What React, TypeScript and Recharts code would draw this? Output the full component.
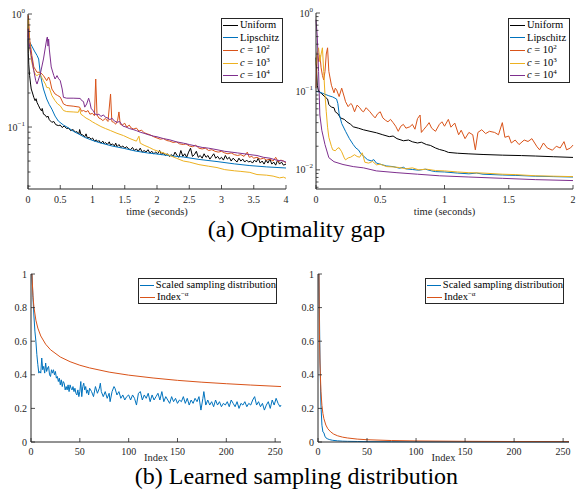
import React from "react";
import { LineChart, Line, XAxis, YAxis, Legend } from "recharts";

const FONT = '"Liberation Serif", "Times New Roman", serif';
const AX = "#262626";
const BLACK = "#000000";
const BLUE = "#0072BD";
const ORANGE = "#D95319";
const YELLOW = "#EDB120";
const PURPLE = "#7E2F8E";

type Pt = [number, number];

// (a) left panel: optimality gap vs time (seconds), 0..4
const TL_UNIFORM: Pt[] = [
  [0, 0.6], [0.005, 0.45], [0.012, 0.36], [0.025, 0.285], [0.04, 0.24], [0.05, 0.217], [0.07, 0.2], [0.09, 0.183],
  [0.11, 0.171], [0.125, 0.178], [0.14, 0.165], [0.165, 0.154], [0.19, 0.144], [0.21, 0.139], [0.22, 0.146], [0.24, 0.13],
  [0.27, 0.127], [0.29, 0.122], [0.31, 0.125], [0.33, 0.116], [0.37, 0.11], [0.4, 0.112], [0.43, 0.105], [0.47, 0.103],
  [0.5, 0.104], [0.53, 0.099], [0.56, 0.102], [0.6, 0.097], [0.63, 0.098], [0.66, 0.093], [0.7, 0.095], [0.73, 0.09],
  [0.76, 0.091], [0.79, 0.087], [0.8, 0.095], [0.82, 0.086], [0.85, 0.085], [0.88, 0.082], [0.9, 0.087], [0.92, 0.08],
  [0.95, 0.081], [0.98, 0.078], [1.0, 0.08], [1.03, 0.075], [1.06, 0.077], [1.08, 0.074], [1.1, 0.076], [1.13, 0.072],
  [1.16, 0.075], [1.18, 0.071], [1.2, 0.073], [1.23, 0.07], [1.26, 0.074], [1.28, 0.069], [1.31, 0.071], [1.34, 0.068],
  [1.36, 0.072], [1.38, 0.067], [1.41, 0.07], [1.44, 0.066], [1.47, 0.068], [1.5, 0.065], [1.53, 0.067], [1.56, 0.064],
  [1.59, 0.063], [1.62, 0.066], [1.65, 0.062], [1.68, 0.064], [1.71, 0.061], [1.74, 0.065], [1.77, 0.06], [1.8, 0.062],
  [1.83, 0.06], [1.86, 0.063], [1.89, 0.059], [1.92, 0.061], [1.95, 0.058], [1.98, 0.06], [2.01, 0.058], [2.04, 0.062],
  [2.07, 0.057], [2.1, 0.059], [2.13, 0.056], [2.16, 0.058], [2.19, 0.055], [2.22, 0.057], [2.25, 0.055], [2.28, 0.06],
  [2.31, 0.056], [2.34, 0.054], [2.37, 0.062], [2.4, 0.055], [2.43, 0.058], [2.46, 0.054], [2.49, 0.06], [2.52, 0.065],
  [2.55, 0.055], [2.58, 0.057], [2.61, 0.061], [2.64, 0.054], [2.67, 0.056], [2.7, 0.053], [2.73, 0.058], [2.76, 0.054],
  [2.79, 0.056], [2.82, 0.052], [2.85, 0.055], [2.88, 0.058], [2.91, 0.053], [2.94, 0.055], [2.97, 0.052], [3.0, 0.054],
  [3.03, 0.051], [3.06, 0.056], [3.09, 0.052], [3.12, 0.054], [3.15, 0.05], [3.18, 0.053], [3.21, 0.051], [3.24, 0.049],
  [3.27, 0.053], [3.3, 0.05], [3.33, 0.052], [3.36, 0.049], [3.39, 0.051], [3.42, 0.049], [3.45, 0.05], [3.48, 0.048],
  [3.51, 0.051], [3.54, 0.049], [3.57, 0.053], [3.6, 0.048], [3.63, 0.05], [3.66, 0.047], [3.69, 0.051], [3.72, 0.048],
  [3.75, 0.052], [3.78, 0.047], [3.81, 0.049], [3.84, 0.046], [3.87, 0.051], [3.9, 0.047], [3.93, 0.049], [3.96, 0.046],
  [4.0, 0.047],
];
const TL_LIPSCHITZ: Pt[] = [
  [0, 0.61], [0.03, 0.56], [0.06, 0.52], [0.1, 0.47], [0.14, 0.43], [0.165, 0.4], [0.19, 0.3], [0.215, 0.25],
  [0.24, 0.217], [0.29, 0.177], [0.33, 0.158], [0.37, 0.144], [0.42, 0.125], [0.47, 0.113], [0.55, 0.104], [0.63, 0.098],
  [0.7, 0.092], [0.78, 0.087], [0.88, 0.081], [0.99, 0.0765], [1.1, 0.073], [1.3, 0.068], [1.5, 0.0645], [1.66, 0.0614],
  [1.85, 0.059], [2.0, 0.0577], [2.2, 0.0558], [2.41, 0.0543], [2.65, 0.0517], [2.93, 0.0495], [3.2, 0.0472],
  [3.44, 0.0456], [3.7, 0.0444], [4.0, 0.0434],
];
const TL_C2: Pt[] = [
  [0, 0.62], [0.005, 0.97], [0.012, 0.85], [0.025, 0.6], [0.06, 0.43], [0.09, 0.34], [0.14, 0.305], [0.19, 0.305],
  [0.24, 0.285], [0.29, 0.257], [0.32, 0.277], [0.34, 0.26], [0.37, 0.217], [0.42, 0.196], [0.46, 0.19], [0.5, 0.184],
  [0.55, 0.16], [0.6, 0.155], [0.7, 0.153], [0.8, 0.15], [0.83, 0.138], [0.86, 0.14], [0.9, 0.136], [0.93, 0.14],
  [0.96, 0.13], [1.0, 0.132], [1.03, 0.126], [1.05, 0.266], [1.07, 0.128], [1.1, 0.12], [1.13, 0.118], [1.16, 0.114],
  [1.2, 0.119], [1.24, 0.112], [1.28, 0.196], [1.3, 0.112], [1.33, 0.11], [1.36, 0.106], [1.39, 0.115], [1.41, 0.136],
  [1.43, 0.106], [1.46, 0.104], [1.5, 0.108], [1.53, 0.1], [1.57, 0.104], [1.6, 0.098], [1.64, 0.096], [1.68, 0.098],
  [1.72, 0.092], [1.76, 0.094], [1.8, 0.089], [1.85, 0.087], [1.9, 0.085], [1.95, 0.082], [2.0, 0.08], [2.05, 0.078],
  [2.1, 0.079], [2.15, 0.076], [2.2, 0.075], [2.25, 0.073], [2.3, 0.074], [2.35, 0.071], [2.41, 0.07], [2.45, 0.071],
  [2.5, 0.068], [2.55, 0.067], [2.6, 0.069], [2.65, 0.065], [2.7, 0.064], [2.75, 0.065], [2.8, 0.062], [2.85, 0.063],
  [2.9, 0.061], [2.95, 0.06], [3.0, 0.061], [3.05, 0.059], [3.1, 0.058], [3.15, 0.059], [3.2, 0.057], [3.25, 0.056],
  [3.3, 0.057], [3.35, 0.055], [3.4, 0.06], [3.43, 0.054], [3.47, 0.055], [3.5, 0.053], [3.55, 0.054], [3.6, 0.052],
  [3.65, 0.053], [3.7, 0.051], [3.75, 0.052], [3.8, 0.05], [3.84, 0.054], [3.88, 0.049], [3.92, 0.051], [3.96, 0.05],
  [4.0, 0.048],
];
const TL_C3: Pt[] = [
  [0, 0.72], [0.005, 0.9], [0.012, 0.69], [0.03, 0.5], [0.05, 0.4], [0.07, 0.35], [0.09, 0.315], [0.12, 0.29],
  [0.14, 0.285], [0.17, 0.295], [0.19, 0.29], [0.22, 0.27], [0.24, 0.257], [0.27, 0.24], [0.29, 0.224], [0.33, 0.222],
  [0.37, 0.19], [0.42, 0.171], [0.46, 0.16], [0.5, 0.154], [0.55, 0.14], [0.6, 0.137], [0.7, 0.136], [0.78, 0.135],
  [0.8, 0.145], [0.82, 0.13], [0.86, 0.125], [0.9, 0.12], [0.95, 0.116], [1.0, 0.111], [1.05, 0.107], [1.13, 0.101],
  [1.2, 0.097], [1.28, 0.093], [1.38, 0.088], [1.48, 0.084], [1.58, 0.079], [1.68, 0.075], [1.72, 0.083], [1.74, 0.072],
  [1.8, 0.069], [1.88, 0.066], [1.95, 0.063], [2.02, 0.061], [2.1, 0.059], [2.2, 0.056], [2.3, 0.053], [2.41, 0.05],
  [2.5, 0.049], [2.65, 0.0465], [2.8, 0.045], [2.93, 0.0438], [3.05, 0.042], [3.2, 0.041], [3.3, 0.0405], [3.44, 0.0397],
  [3.55, 0.038], [3.7, 0.0375], [3.8, 0.0368], [3.9, 0.0355], [3.96, 0.036], [4.0, 0.0352],
];
const TL_C4: Pt[] = [
  [0, 0.6], [0.005, 0.74], [0.015, 0.56], [0.05, 0.43], [0.09, 0.315], [0.12, 0.257], [0.14, 0.24], [0.19, 0.294],
  [0.24, 0.4], [0.29, 0.6], [0.3, 0.626], [0.31, 0.52], [0.32, 0.6], [0.33, 0.49], [0.36, 0.34], [0.4, 0.285],
  [0.42, 0.266], [0.45, 0.285], [0.47, 0.27], [0.5, 0.257], [0.53, 0.217], [0.55, 0.183], [0.6, 0.18], [0.7, 0.18],
  [0.81, 0.179], [0.83, 0.172], [0.86, 0.168], [0.88, 0.15], [0.91, 0.16], [0.94, 0.18], [0.96, 0.165], [0.98, 0.145],
  [1.01, 0.14], [1.04, 0.13], [1.07, 0.128], [1.1, 0.13], [1.13, 0.124], [1.17, 0.128], [1.2, 0.122], [1.24, 0.12],
  [1.27, 0.116], [1.3, 0.12], [1.34, 0.113], [1.38, 0.11], [1.42, 0.112], [1.47, 0.102], [1.52, 0.1], [1.57, 0.097],
  [1.63, 0.095], [1.68, 0.093], [1.74, 0.09], [1.8, 0.088], [1.88, 0.085], [1.95, 0.083], [2.0, 0.082], [2.1, 0.079],
  [2.2, 0.077], [2.3, 0.074], [2.41, 0.072], [2.5, 0.07], [2.6, 0.068], [2.7, 0.066], [2.8, 0.065], [2.93, 0.063],
  [3.05, 0.061], [3.15, 0.06], [3.25, 0.059], [3.35, 0.058], [3.44, 0.057], [3.55, 0.056], [3.65, 0.054], [3.75, 0.053],
  [3.85, 0.051], [3.96, 0.05], [4.0, 0.049],
];

// (a) right panel: optimality gap vs time (seconds), 0..2
const TR_UNIFORM: Pt[] = [
  [0, 0.27], [0.01, 0.12], [0.02, 0.1], [0.04, 0.095], [0.07, 0.085], [0.09, 0.08], [0.1, 0.068], [0.12, 0.063],
  [0.14, 0.062], [0.15, 0.055], [0.17, 0.052], [0.19, 0.046], [0.22, 0.044], [0.24, 0.041], [0.27, 0.038], [0.29, 0.0354],
  [0.33, 0.034], [0.37, 0.0324], [0.42, 0.031], [0.47, 0.0297], [0.52, 0.028], [0.57, 0.0265], [0.6, 0.027], [0.63, 0.025],
  [0.68, 0.0235], [0.72, 0.024], [0.75, 0.0228], [0.79, 0.022], [0.82, 0.0225], [0.86, 0.021], [0.89, 0.0205], [0.93, 0.019],
  [0.96, 0.0182], [1.0, 0.0175], [1.03, 0.0167], [1.1, 0.0163], [1.19, 0.016], [1.3, 0.0157], [1.45, 0.0154], [1.6, 0.0152],
  [1.71, 0.015], [1.85, 0.0147], [2.0, 0.0144],
];
const TR_LIPSCHITZ: Pt[] = [
  [0, 0.1], [0.03, 0.098], [0.07, 0.092], [0.1, 0.088], [0.13, 0.085], [0.16, 0.08], [0.17, 0.07], [0.18, 0.052],
  [0.2, 0.039], [0.23, 0.031], [0.26, 0.025], [0.29, 0.021], [0.31, 0.019], [0.33, 0.018], [0.35, 0.016], [0.37, 0.015],
  [0.4, 0.0135], [0.43, 0.013], [0.45, 0.0135], [0.47, 0.0122], [0.5, 0.0118], [0.55, 0.0112], [0.6, 0.011], [0.65, 0.0105],
  [0.68, 0.0108], [0.7, 0.0103], [0.75, 0.0101], [0.8, 0.0099], [0.85, 0.0102], [0.9, 0.0097], [0.93, 0.0095], [1.0, 0.0094],
  [1.1, 0.0091], [1.19, 0.0089], [1.25, 0.0091], [1.3, 0.0088], [1.45, 0.0086], [1.55, 0.0085], [1.71, 0.0083],
  [1.85, 0.0082], [2.0, 0.0081],
];
const TR_C2: Pt[] = [
  [0, 0.11], [0.01, 0.32], [0.02, 0.24], [0.03, 0.29], [0.04, 0.2], [0.05, 0.16], [0.06, 0.14], [0.07, 0.18],
  [0.08, 0.3], [0.09, 0.36], [0.1, 0.18], [0.12, 0.12], [0.14, 0.096], [0.15, 0.11], [0.16, 0.105], [0.18, 0.086],
  [0.2, 0.11], [0.22, 0.085], [0.23, 0.074], [0.25, 0.064], [0.27, 0.07], [0.28, 0.068], [0.3, 0.055], [0.32, 0.067],
  [0.34, 0.062], [0.36, 0.056], [0.37, 0.055], [0.39, 0.062], [0.42, 0.055], [0.44, 0.05], [0.46, 0.046], [0.48, 0.052],
  [0.5, 0.055], [0.52, 0.046], [0.54, 0.043], [0.56, 0.041], [0.58, 0.044], [0.6, 0.04], [0.62, 0.036], [0.64, 0.031],
  [0.66, 0.036], [0.68, 0.038], [0.7, 0.034], [0.73, 0.0354], [0.75, 0.038], [0.77, 0.033], [0.79, 0.045], [0.81, 0.05],
  [0.82, 0.03], [0.84, 0.033], [0.86, 0.036], [0.88, 0.04], [0.9, 0.034], [0.93, 0.031], [0.96, 0.038], [0.98, 0.041],
  [1.0, 0.036], [1.03, 0.044], [1.05, 0.035], [1.08, 0.0395], [1.11, 0.028], [1.13, 0.032], [1.16, 0.025], [1.19, 0.03],
  [1.22, 0.028], [1.24, 0.018], [1.26, 0.03], [1.29, 0.0325], [1.32, 0.029], [1.35, 0.031], [1.39, 0.03], [1.42, 0.028],
  [1.45, 0.04], [1.47, 0.026], [1.5, 0.027], [1.52, 0.022], [1.55, 0.024], [1.58, 0.021], [1.62, 0.024], [1.65, 0.023],
  [1.68, 0.025], [1.72, 0.0197], [1.74, 0.018], [1.77, 0.022], [1.8, 0.019], [1.84, 0.0178], [1.87, 0.02], [1.9, 0.019],
  [1.93, 0.0229], [1.95, 0.018], [1.98, 0.019], [2.0, 0.0207],
];
const TR_C3: Pt[] = [
  [0, 0.22], [0.01, 0.3], [0.02, 0.36], [0.03, 0.24], [0.04, 0.3], [0.05, 0.36], [0.06, 0.18], [0.07, 0.09],
  [0.08, 0.055], [0.09, 0.035], [0.1, 0.026], [0.12, 0.02], [0.13, 0.018], [0.15, 0.0175], [0.17, 0.019], [0.18, 0.0191],
  [0.2, 0.017], [0.22, 0.0142], [0.23, 0.0134], [0.25, 0.0142], [0.27, 0.0145], [0.3, 0.0156], [0.32, 0.0148], [0.34, 0.0145],
  [0.36, 0.0165], [0.38, 0.0125], [0.41, 0.0122], [0.44, 0.0128], [0.47, 0.0116], [0.5, 0.0118], [0.55, 0.011], [0.6, 0.0109],
  [0.65, 0.0107], [0.7, 0.0103], [0.75, 0.0106], [0.8, 0.01], [0.86, 0.0102], [0.93, 0.0098], [1.0, 0.0097], [1.1, 0.0094],
  [1.19, 0.0092], [1.3, 0.0091], [1.45, 0.0088], [1.55, 0.0087], [1.71, 0.0084], [1.85, 0.0083], [2.0, 0.0082],
];
const TR_C4: Pt[] = [
  [0, 0.82], [0.01, 0.5], [0.02, 0.18], [0.03, 0.05], [0.045, 0.032], [0.07, 0.021], [0.1, 0.0143], [0.14, 0.0127],
  [0.21, 0.0117], [0.29, 0.011], [0.37, 0.0106], [0.47, 0.0097], [0.63, 0.0092], [0.79, 0.0088], [0.96, 0.0084],
  [1.19, 0.0081], [1.45, 0.0078], [1.71, 0.0075], [2.0, 0.0073],
];

// (b) learned sampling distribution, index 1..256
const BL_SAMPLED: Pt[] = [
  [1, 1.0], [2, 0.86], [3, 0.75], [4, 0.66], [5, 0.6], [6, 0.52], [7, 0.46], [8, 0.41], [9, 0.42], [10, 0.41],
  [11, 0.5], [12, 0.43], [13, 0.45], [14, 0.41], [15, 0.47], [16, 0.42], [17, 0.44], [18, 0.45], [19, 0.4], [20, 0.39],
  [21, 0.43], [22, 0.41], [23, 0.43], [24, 0.4], [25, 0.42], [26, 0.38], [27, 0.39], [28, 0.36], [29, 0.38], [30, 0.34],
  [31, 0.37], [32, 0.33], [33, 0.36], [34, 0.35], [35, 0.31], [36, 0.33], [37, 0.31], [38, 0.34], [39, 0.3], [40, 0.34],
  [41, 0.32], [42, 0.31], [43, 0.33], [44, 0.3], [45, 0.32], [46, 0.29], [47, 0.28], [48, 0.31], [49, 0.27], [50, 0.3],
  [51, 0.36], [52, 0.27], [53, 0.33], [54, 0.35], [55, 0.31], [56, 0.33], [57, 0.29], [58, 0.31], [59, 0.28], [60, 0.32],
  [62, 0.3], [64, 0.27], [66, 0.33], [68, 0.29], [70, 0.32], [71, 0.35], [72, 0.3], [74, 0.27], [76, 0.3], [78, 0.26],
  [80, 0.29], [81, 0.24], [83, 0.3], [85, 0.33], [86, 0.32], [88, 0.28], [90, 0.3], [92, 0.26], [94, 0.28], [96, 0.25],
  [98, 0.27], [100, 0.28], [102, 0.25], [104, 0.28], [106, 0.26], [108, 0.22], [110, 0.29], [112, 0.3], [114, 0.25],
  [116, 0.28], [118, 0.26], [120, 0.29], [122, 0.24], [124, 0.28], [126, 0.25], [128, 0.27], [130, 0.29], [132, 0.25],
  [134, 0.3], [136, 0.24], [138, 0.27], [140, 0.25], [142, 0.23], [144, 0.27], [146, 0.24], [148, 0.26], [150, 0.23],
  [152, 0.25], [154, 0.24], [156, 0.27], [158, 0.23], [160, 0.26], [162, 0.22], [164, 0.25], [166, 0.23], [168, 0.26],
  [170, 0.24], [172, 0.27], [174, 0.19], [176, 0.26], [177, 0.3], [179, 0.22], [181, 0.25], [183, 0.22], [185, 0.24],
  [187, 0.21], [189, 0.25], [191, 0.22], [193, 0.24], [195, 0.21], [197, 0.23], [199, 0.22], [201, 0.24], [203, 0.21],
  [205, 0.25], [207, 0.23], [209, 0.21], [211, 0.24], [213, 0.2], [215, 0.23], [217, 0.22], [219, 0.24], [221, 0.21],
  [223, 0.23], [225, 0.22], [227, 0.25], [229, 0.27], [231, 0.22], [233, 0.24], [235, 0.21], [237, 0.23], [239, 0.19],
  [241, 0.22], [243, 0.24], [245, 0.2], [247, 0.25], [249, 0.22], [251, 0.26], [253, 0.23], [255, 0.21], [256, 0.22],
];
const BL_POWER: Pt[] = [
  [1, 1.0], [2, 0.871], [3, 0.803], [5, 0.725], [7, 0.678], [10, 0.631], [15, 0.582], [20, 0.549], [30, 0.506],
  [40, 0.478], [50, 0.457], [60, 0.441], [80, 0.416], [100, 0.398], [125, 0.381], [150, 0.367], [175, 0.356],
  [200, 0.347], [225, 0.339], [256, 0.33],
];
const BR_SAMPLED: Pt[] = [
  [1, 1.0], [2, 0.5], [3, 0.22], [4, 0.1], [5, 0.06], [6, 0.055], [7, 0.035], [8, 0.025], [10, 0.018], [12, 0.014],
  [15, 0.01], [20, 0.007], [25, 0.005], [30, 0.004], [40, 0.003], [50, 0.002], [75, 0.0015], [100, 0.001],
  [150, 0.0008], [200, 0.0006], [256, 0.0005],
];
const BR_POWER: Pt[] = [
  [1, 1.0], [1.5, 0.64], [2, 0.47], [3, 0.3], [4, 0.218], [5, 0.17], [6, 0.139], [8, 0.101], [10, 0.079], [13, 0.06],
  [16, 0.047], [20, 0.037], [25, 0.029], [30, 0.024], [40, 0.0173], [50, 0.0135], [75, 0.0087], [100, 0.0063],
  [150, 0.004], [200, 0.0029], [256, 0.0022],
];

const GAP_NAMES = ["Uniform", "Lipschitz", "c = 10^2", "c = 10^3", "c = 10^4"];
const GAP_COLORS = [BLACK, BLUE, ORANGE, YELLOW, PURPLE];
const DIST_NAMES = ["Scaled sampling distribution", "Index^-α"];
const DIST_COLORS = [BLUE, ORANGE];

const TL_X_TICKS = [0, 0.5, 1, 1.5, 2, 2.5, 3, 3.5, 4];
const TR_X_TICKS = [0, 0.5, 1, 1.5, 2];
const TL_Y_TICKS = [0.03, 0.04, 0.05, 0.06, 0.07, 0.08, 0.09, 0.1, 0.2, 0.3, 0.4, 0.5, 0.6, 0.7, 0.8, 0.9, 1];
const TR_Y_TICKS = [
  0.006, 0.007, 0.008, 0.009, 0.01, 0.02, 0.03, 0.04, 0.05, 0.06, 0.07, 0.08, 0.09,
  0.1, 0.2, 0.3, 0.4, 0.5, 0.6, 0.7, 0.8, 0.9, 1,
];
const IDX_TICKS = [0, 50, 100, 150, 200, 250];
const DIST_Y_TICKS = [0, 0.2, 0.4, 0.6, 0.8, 1];

const pts = (arr: Pt[]) => arr.map(([t, v]) => ({ t, v }));

function LogYTick({ x, y, payload }: any) {
  const lg = Math.log10(payload.value);
  const p = Math.round(lg);
  const major = Math.abs(lg - p) < 1e-6;
  return (
    <g>
      <line x1={x} x2={x + (major ? 4 : 2.5)} y1={y} y2={y} stroke={AX} strokeWidth={0.8} />
      {major && (
        <text x={x - 3} y={y + 3.5} textAnchor="end" fontSize={10} fill={AX} fontFamily={FONT}>
          10<tspan dy={-5} fontSize={7}>{p === 0 ? "0" : "\u2212" + Math.abs(p)}</tspan>
        </text>
      )}
    </g>
  );
}

function LinYTick({ x, y, payload }: any) {
  return (
    <g>
      <line x1={x} x2={x + 4} y1={y} y2={y} stroke={AX} strokeWidth={0.8} />
      <text x={x - 4} y={y + 3.5} textAnchor="end" fontSize={10} fill={AX} fontFamily={FONT}>
        {String(payload.value)}
      </text>
    </g>
  );
}

function XTick({ x, y, payload, dy }: any) {
  return (
    <g>
      <line x1={x} x2={x} y1={y} y2={y - 4} stroke={AX} strokeWidth={0.8} />
      <text x={x} y={y + dy} textAnchor="middle" fontSize={10} fill={AX} fontFamily={FONT}>
        {String(payload.value)}
      </text>
    </g>
  );
}

const axisTitle = (text: string, dy: number) => (props: any) => {
  const { x, y, width } = props.viewBox;
  return (
    <text x={x + width / 2} y={y + dy} textAnchor="middle" fontSize={10.5} fill={AX} fontFamily={FONT}>
      {text}
    </text>
  );
};

const SUP: React.CSSProperties = { fontSize: 7, verticalAlign: "baseline", position: "relative", top: -4 };

function formatName(name: string) {
  const m = name.match(/^c = 10\^(\d)$/);
  if (m) return <><i>c</i> = 10<sup style={SUP}>{m[1]}</sup></>;
  if (name === "Index^-α") return <>Index<sup style={SUP}>{"\u2212\u03b1"}</sup></>;
  return name;
}

function LegendBox({ rowH, names, colors }: any) {
  return (
    <div style={{ boxSizing: "border-box", width: "100%", height: "100%", border: `1px solid ${AX}`, background: "#fff",
      fontFamily: FONT, fontSize: 10.5, color: "#000", lineHeight: 1 }}>
      {names.map((name: string, i: number) => (
        <div key={name} style={{ display: "flex", alignItems: "center", height: rowH, whiteSpace: "nowrap" }}>
          <span style={{ display: "inline-block", width: 15, height: 0, borderTop: `1.4px solid ${colors[i]}`, margin: "0 2px 0 1px" }} />
          <span>{formatName(name)}</span>
        </div>
      ))}
    </div>
  );
}

const lineProps = { dataKey: "v", dot: false, isAnimationActive: false, type: "linear" as const, strokeWidth: 1 };

export default function App() {
  const tl = [TL_UNIFORM, TL_LIPSCHITZ, TL_C2, TL_C3, TL_C4];
  const tr = [TR_UNIFORM, TR_LIPSCHITZ, TR_C2, TR_C3, TR_C4];

  return (
    <div style={{ position: "absolute", left: 0, top: 0, width: 577, height: 489, background: "#fff", overflow: "hidden" }}>
      <div style={{ position: "absolute", left: 0, top: 0 }}>
        <LineChart width={290} height={222} margin={{ top: 14, right: 4, bottom: 0, left: 0 }}>
          <XAxis dataKey="t" type="number" domain={[0, 4]} ticks={TL_X_TICKS} interval={0} height={33}
            stroke={AX} tickLine={false} tickSize={0} tickMargin={0} tick={<XTick dy={13.5} />}
            label={axisTitle("time (seconds)", 25.5)} />
          <YAxis type="number" scale="log" domain={[0.0283, 1]} allowDataOverflow ticks={TL_Y_TICKS} interval={0}
            width={28} stroke={AX} tickLine={false} tickSize={0} tickMargin={0} tick={<LogYTick />} />
          {tl.map((s, i) => (
            <Line key={GAP_NAMES[i]} {...lineProps} data={pts(s)} name={GAP_NAMES[i]} stroke={GAP_COLORS[i]} />
          ))}
          <Legend layout="vertical" align="center" verticalAlign="middle"
            wrapperStyle={{ left: 221, top: 18, width: 62, height: 65 }}
            content={() => <LegendBox rowH={12.6} names={GAP_NAMES} colors={GAP_COLORS} />} />
        </LineChart>
      </div>

      <div style={{ position: "absolute", left: 290, top: 0 }}>
        <LineChart width={287} height={222} margin={{ top: 13, right: 4, bottom: 0, left: 0 }}>
          <XAxis dataKey="t" type="number" domain={[0, 2]} ticks={TR_X_TICKS} interval={0} height={33}
            stroke={AX} tickLine={false} tickSize={0} tickMargin={0} tick={<XTick dy={13.5} />}
            label={axisTitle("time (seconds)", 25.5)} />
          <YAxis type="number" scale="log" domain={[0.0057, 1]} allowDataOverflow ticks={TR_Y_TICKS} interval={0}
            width={26} stroke={AX} tickLine={false} tickSize={0} tickMargin={0} tick={<LogYTick />} />
          {tr.map((s, i) => (
            <Line key={GAP_NAMES[i]} {...lineProps} data={pts(s)} name={GAP_NAMES[i]} stroke={GAP_COLORS[i]} />
          ))}
          <Legend layout="vertical" align="center" verticalAlign="middle"
            wrapperStyle={{ left: 218, top: 18, width: 62, height: 65 }}
            content={() => <LegendBox rowH={12.6} names={GAP_NAMES} colors={GAP_COLORS} />} />
        </LineChart>
      </div>

      <div style={{ position: "absolute", left: 0, top: 250 }}>
        <LineChart width={290} height={230} margin={{ top: 24, right: 9, bottom: 0, left: 0 }}>
          <XAxis dataKey="t" type="number" domain={[0, 256]} ticks={IDX_TICKS} interval={0} height={38}
            stroke={AX} tickLine={false} tickSize={0} tickMargin={0} tick={<XTick dy={12.5} />}
            label={axisTitle("Index", 18.5)} />
          <YAxis type="number" domain={[0, 1]} ticks={DIST_Y_TICKS} interval={0}
            width={31} stroke={AX} tickLine={false} tickSize={0} tickMargin={0} tick={<LinYTick />} />
          <Line {...lineProps} data={pts(BL_SAMPLED)} name={DIST_NAMES[0]} stroke={BLUE} />
          <Line {...lineProps} data={pts(BL_POWER)} name={DIST_NAMES[1]} stroke={ORANGE} />
          <Legend layout="vertical" align="center" verticalAlign="middle"
            wrapperStyle={{ left: 138, top: 28, width: 139, height: 26 }}
            content={() => <LegendBox rowH={12.2} names={DIST_NAMES} colors={DIST_COLORS} />} />
        </LineChart>
      </div>

      <div style={{ position: "absolute", left: 287, top: 250 }}>
        <LineChart width={290} height={230} margin={{ top: 24, right: 8, bottom: 0, left: 0 }}>
          <XAxis dataKey="t" type="number" domain={[0, 256]} ticks={IDX_TICKS} interval={0} height={38}
            stroke={AX} tickLine={false} tickSize={0} tickMargin={0} tick={<XTick dy={12.5} />}
            label={axisTitle("Index", 18.5)} />
          <YAxis type="number" domain={[0, 1]} ticks={DIST_Y_TICKS} interval={0}
            width={31} stroke={AX} tickLine={false} tickSize={0} tickMargin={0} tick={<LinYTick />} />
          <Line {...lineProps} data={pts(BR_SAMPLED)} name={DIST_NAMES[0]} stroke={BLUE} />
          <Line {...lineProps} data={pts(BR_POWER)} name={DIST_NAMES[1]} stroke={ORANGE} />
          <Legend layout="vertical" align="center" verticalAlign="middle"
            wrapperStyle={{ left: 138, top: 28, width: 139, height: 26 }}
            content={() => <LegendBox rowH={12.2} names={DIST_NAMES} colors={DIST_COLORS} />} />
        </LineChart>
      </div>

      <div style={{ position: "absolute", left: 8, top: 221, width: 577, textAlign: "center", fontFamily: FONT, fontSize: 24, lineHeight: "17px", color: "#000" }}>
        (a) Optimality gap
      </div>
      <div style={{ position: "absolute", left: 8, top: 468, width: 577, textAlign: "center", fontFamily: FONT, fontSize: 24, lineHeight: "17px", color: "#000" }}>
        (b) Learned sampling distribution
      </div>
    </div>
  );
}
